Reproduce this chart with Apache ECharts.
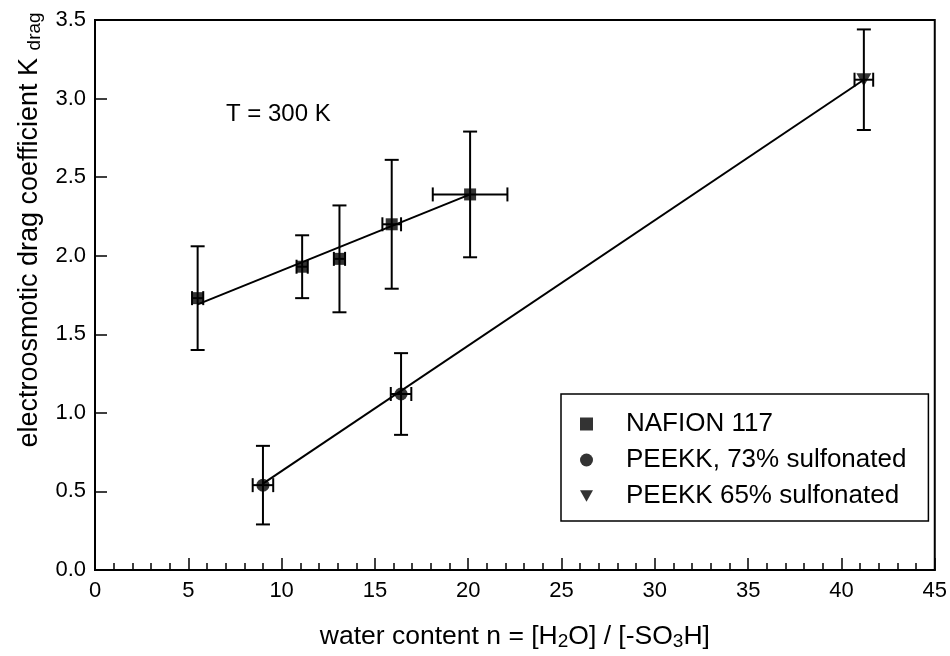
<!DOCTYPE html>
<html>
<head>
<meta charset="utf-8">
<script src="https://cdn.jsdelivr.net/npm/echarts@6/dist/echarts.min.js"></script>
<style>
  html, body { margin:0; padding:0; background:#fff; }
  #main { width:950px; height:656px; }
</style>
</head>
<body>
<div id="main"></div>
<script>
var main = document.getElementById("main");
var myChart = echarts.init(main);

// data
var xTicks = [0, 5, 10, 15, 20, 25, 30, 35, 40, 45];
var yTicks = ["0.0", "0.5", "1.0", "1.5", "2.0", "2.5", "3.0", "3.5"];

var nafionX    = [5.5, 11.1, 13.1, 15.9, 20.1];
var nafionY    = [1.73, 1.93, 1.98, 2.20, 2.39];
var nafionYErr = [0.33, 0.20, 0.34, 0.41, 0.40];
var nafionXErr = [0.3, 0.3, 0.3, 0.5, 2.0];

var peekk73X    = [9.0, 16.4];
var peekk73Y    = [0.54, 1.12];
var peekk73YErr = [0.25, 0.26];
var peekk73XErr = [0.55, 0.55];

var peekk65X    = [41.2];
var peekk65Y    = [3.12];
var peekk65YErr = [0.32];
var peekk65XErr = [0.5];

// fitted lines (end points)
var nafionFitX = [5.5, 20.1];
var nafionFitY = [1.69, 2.39];
var peekkFitX  = [9.0, 41.2];
var peekkFitY  = [0.55, 3.12];

var names = ["NAFION 117", "PEEKK, 73% sulfonated", "PEEKK 65% sulfonated"];
var triDown = 'path://M0,0L10,0L5,9Z';

function pts(xs, ys) {
  return xs.map(function (x, i) { return [x, ys[i]]; });
}
function errData(xs, ys, ye, xe) {
  return xs.map(function (x, i) {
    return [x, ys[i], ys[i] - ye[i], ys[i] + ye[i], x - xe[i], x + xe[i]];
  });
}

function renderErr(params, api) {
  var x = api.value(0), y = api.value(1);
  var yLo = api.coord([x, api.value(2)]);
  var yHi = api.coord([x, api.value(3)]);
  var xLo = api.coord([api.value(4), y]);
  var xHi = api.coord([api.value(5), y]);
  var cw = 7, ch = 7;
  var st = { stroke: '#000', lineWidth: 2, fill: null };
  function ln(x1, y1, x2, y2) {
    return { type: 'line', shape: { x1: x1, y1: y1, x2: x2, y2: y2 }, style: st };
  }
  return {
    type: 'group',
    children: [
      ln(yLo[0], yLo[1], yHi[0], yHi[1]),
      ln(yLo[0] - cw, yLo[1], yLo[0] + cw, yLo[1]),
      ln(yHi[0] - cw, yHi[1], yHi[0] + cw, yHi[1]),
      ln(xLo[0], xLo[1], xHi[0], xHi[1]),
      ln(xLo[0], xLo[1] - ch, xLo[0], xLo[1] + ch),
      ln(xHi[0], xHi[1] - ch, xHi[0], xHi[1] + ch)
    ]
  };
}

var font = "'Liberation Sans', Arial, Helvetica, sans-serif";

var option = {
  animation: false,
  backgroundColor: '#fff',
  grid: {
    left: 95, right: 15, top: 20, bottom: 77,
    show: true, borderColor: '#000', borderWidth: 2
  },
  legend: {
    orient: 'vertical',
    left: 561, top: 394,
    padding: [17, 22, 12, 19],
    itemGap: 10,
    itemWidth: 13, itemHeight: 13,
    borderColor: '#000', borderWidth: 1.5,
    backgroundColor: '#fff',
    textStyle: { fontFamily: font, fontSize: 26, lineHeight: 26, color: '#000', padding: [0, 0, 0, 28] },
    data: [
      { name: names[0], icon: 'rect' },
      { name: names[1], icon: 'circle' },
      { name: names[2], icon: triDown }
    ]
  },
  xAxis: {
    type: 'value', min: 0, max: 45, interval: 5,
    name: 'water content n = [H{sub|2}O] / [-SO{sub|3}H]',
    nameLocation: 'middle', nameGap: 52,
    nameTextStyle: {
      fontFamily: font, fontSize: 26.5, color: '#000',
      rich: { sub: { fontFamily: font, fontSize: 19, color: '#000', padding: [10, 0, 0, 0] } }
    },
    axisLine: { lineStyle: { color: '#000', width: 2 } },
    axisTick: { inside: true, length: 12, lineStyle: { color: '#000', width: 1.5 } },
    minorTick: { show: true, splitNumber: 5, length: 7, lineStyle: { color: '#000', width: 1.5 } },
    axisLabel: {
      margin: 10, fontFamily: font, fontSize: 22, color: '#000',
      formatter: function (v) { return xTicks.indexOf(v) >= 0 ? String(v) : ''; }
    },
    splitLine: { show: false }
  },
  yAxis: {
    type: 'value', min: 0, max: 3.5, interval: 0.5,
    name: 'electroosmotic drag coefficient K {sub|drag}',
    nameLocation: 'middle', nameGap: 50,
    nameTextStyle: {
      fontFamily: font, fontSize: 27, color: '#000',
      padding: [0, 0, 0, 130],
      rich: { sub: { fontFamily: font, fontSize: 19, color: '#000', padding: [10, 0, 0, 0] } }
    },
    axisLine: { lineStyle: { color: '#000', width: 2 } },
    axisTick: { inside: true, length: 12, lineStyle: { color: '#000', width: 1.5 } },
    axisLabel: {
      margin: 9, fontFamily: font, fontSize: 22, color: '#000',
      formatter: function (v) { return yTicks[Math.round(v / 0.5)]; }
    },
    splitLine: { show: false }
  },
  graphic: [{
    type: 'text', left: 226, top: 102,
    style: { text: 'T = 300 K', font: '24px ' + font, fill: '#000' }
  }],
  series: [
    {
      type: 'line', data: pts(nafionFitX, nafionFitY), symbol: 'none',
      lineStyle: { color: '#000', width: 2 }, silent: true
    },
    {
      type: 'line', data: pts(peekkFitX, peekkFitY), symbol: 'none',
      lineStyle: { color: '#000', width: 2 }, silent: true
    },
    { type: 'custom', renderItem: renderErr, data: errData(nafionX, nafionY, nafionYErr, nafionXErr), z: 3 },
    { type: 'custom', renderItem: renderErr, data: errData(peekk73X, peekk73Y, peekk73YErr, peekk73XErr), z: 3 },
    { type: 'custom', renderItem: renderErr, data: errData(peekk65X, peekk65Y, peekk65YErr, peekk65XErr), z: 3 },
    {
      name: names[0], type: 'scatter', data: pts(nafionX, nafionY),
      symbol: 'rect', symbolSize: 12, itemStyle: { color: '#000' }, z: 4
    },
    {
      name: names[1], type: 'scatter', data: pts(peekk73X, peekk73Y),
      symbol: 'circle', symbolSize: 13, itemStyle: { color: '#000' }, z: 4
    },
    {
      name: names[2], type: 'scatter', data: pts(peekk65X, peekk65Y),
      symbol: triDown, symbolSize: [15, 13], itemStyle: { color: '#000' }, z: 4
    }
  ]
};

myChart.setOption(option);
</script>
</body>
</html>
